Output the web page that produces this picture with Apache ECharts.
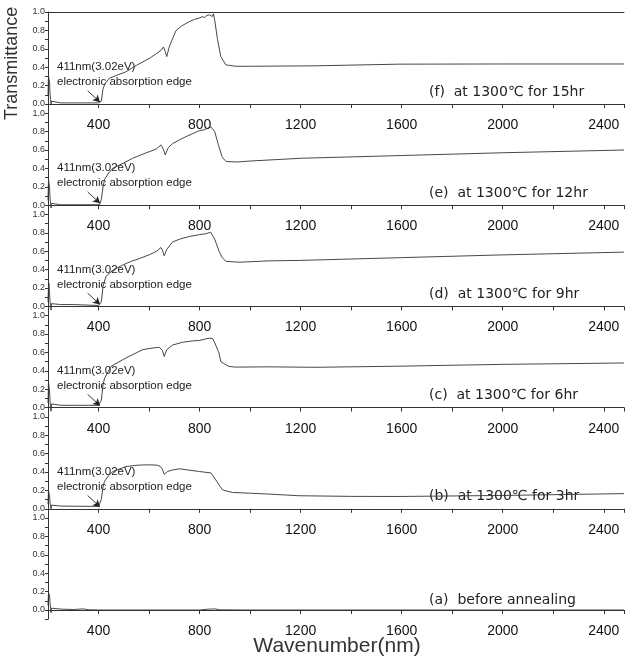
<!DOCTYPE html>
<html>
<head>
<meta charset="utf-8">
<script src="https://cdn.jsdelivr.net/npm/echarts@6/dist/echarts.min.js"></script>
<style>html,body{margin:0;padding:0;background:#fff}#c{width:627px;height:660px}</style>
</head>
<body>
<div id="c"></div>
<script>
// ---- data ----
const panelLabels = ['(f)  at 1300\u2103 for 15hr', '(e)  at 1300\u2103 for 12hr', '(d)  at 1300\u2103 for 9hr',
                     '(c)  at 1300\u2103 for 6hr', '(b)  at 1300\u2103 for 3hr', '(a)  before annealing'];
const xTickLabels = [400, 800, 1200, 1600, 2000, 2400];
const yTickLabels = [0.0, 0.2, 0.4, 0.6, 0.8, 1.0];

const wl_f = [200,202,204,206,208,210,212,214,218,250,300,350,400,406,411,417,425,443,470,509,550,604,630,650,657,663,670,680,690,707,730,759,780,800,811,820,828,835,840,845,850,855,860,871,884,904,943,1000,1259,1590,2000,2480];
const tr_f = [0.10,0.30,0.32,0.24,0.12,0.05,-0.01,0.03,0.015,0.012,0.012,0.012,0.012,0.01,0.03,0.155,0.22,0.28,0.31,0.35,0.42,0.50,0.55,0.59,0.62,0.58,0.515,0.62,0.69,0.80,0.85,0.895,0.92,0.935,0.95,0.94,0.96,0.95,0.97,0.98,0.95,0.98,0.91,0.70,0.515,0.425,0.41,0.41,0.415,0.433,0.435,0.435];

const wl_e = [200,202,204,206,208,210,212,214,218,250,300,350,397,405,411,418,424,440,456,500,535,580,628,647,655,664,675,693,720,746,799,820,835,845,852,860,875,890,905,950,1000,1200,1600,2000,2480];
const tr_e = [0.05,0.28,0.30,0.20,0.08,0.02,-0.03,0.02,0.005,0.005,0.005,0.005,0.005,0.01,0.06,0.20,0.28,0.35,0.40,0.46,0.51,0.56,0.61,0.655,0.62,0.547,0.62,0.67,0.71,0.745,0.81,0.82,0.84,0.85,0.83,0.80,0.65,0.52,0.475,0.47,0.48,0.51,0.54,0.57,0.60];

const wl_d = [200,202,204,206,208,210,212,214,218,250,300,350,400,406,411,418,430,460,496,530,562,600,630,647,653,660,670,693,720,759,800,825,844,850,860,877,890,904,956,1075,1200,1600,2000,2480];
const tr_d = [0.05,0.22,0.25,0.15,0.06,0.0,-0.04,0.03,0.02,0.02,0.02,0.015,0.01,0.01,0.05,0.22,0.33,0.40,0.45,0.49,0.52,0.56,0.60,0.64,0.61,0.55,0.62,0.70,0.73,0.76,0.78,0.79,0.806,0.79,0.73,0.60,0.53,0.49,0.48,0.495,0.50,0.53,0.56,0.59];

const wl_c = [200,202,204,206,208,210,212,214,218,250,300,350,400,406,411,418,424,450,509,575,620,641,653,660,670,693,733,772,800,838,845,852,864,877,884,904,917,943,1075,1259,1590,2000,2480];
const tr_c = [0.05,0.28,0.30,0.18,0.07,0.0,-0.04,0.04,0.03,0.025,0.025,0.025,0.024,0.03,0.08,0.25,0.32,0.45,0.54,0.63,0.65,0.655,0.62,0.555,0.63,0.68,0.71,0.725,0.73,0.755,0.765,0.75,0.68,0.59,0.50,0.465,0.447,0.44,0.443,0.438,0.45,0.47,0.485];

const wl_b = [200,202,204,206,208,210,212,214,218,250,300,350,400,406,411,418,424,440,456,509,560,601,630,645,653,660,673,690,720,759,800,845,852,864,877,890,904,930,996,1075,1193,1400,1590,2000,2480];
const tr_b = [0.05,0.20,0.22,0.14,0.07,0.03,0.0,0.04,0.03,0.03,0.028,0.027,0.026,0.03,0.10,0.24,0.30,0.36,0.405,0.46,0.475,0.478,0.475,0.46,0.43,0.375,0.405,0.42,0.435,0.42,0.405,0.39,0.385,0.315,0.26,0.207,0.195,0.178,0.17,0.16,0.142,0.135,0.134,0.145,0.165];

const wl_a = [200,202,204,206,208,210,212,214,220,250,300,340,360,400,800,840,860,880,1000,2480];
const tr_a = [0.05,0.19,0.20,0.16,0.08,0.02,-0.03,0.02,0.01,0.01,0.005,0.012,0.003,0.0,0.0,0.01,0.012,0.002,0.0,0.0];

const edgeArrow = [[357, 0.144], [406, 0.02]];
// ----------------------------------------

const wls = [wl_f, wl_e, wl_d, wl_c, wl_b, wl_a];
const trs = [tr_f, tr_e, tr_d, tr_c, tr_b, tr_a];

const TOP0 = 12, PH = 101.2, LEFT = 48;
const FONT = 'Arial, "Liberation Sans", sans-serif';
const grids = [], xAxes = [], yAxes = [], series = [], graphics = [];
for (let i = 0; i < 6; i++) {
  const top = TOP0 + i * PH;
  grids.push({left: LEFT, right: 0, top: top, height: PH});
  xAxes.push({
    gridIndex: i, type: 'value', min: 200, max: 2480, interval: 200, z: 1,
    axisLine: {show: true, lineStyle: {color: '#333', width: 1}},
    axisTick: {show: true, length: 4, lineStyle: {color: '#333'}},
    axisLabel: {fontSize: 14, margin: 5, color: '#111', fontFamily: FONT,
      formatter: v => xTickLabels.indexOf(Math.round(v)) >= 0 ? String(Math.round(v)) : ''},
    splitLine: {show: false}
  });
  yAxes.push({
    gridIndex: i, type: 'value', min: -0.1, max: 1.0, interval: 0.1, z: 1,
    axisLine: {show: true, lineStyle: {color: '#333', width: 1}},
    axisTick: {show: true, length: 3, lineStyle: {color: '#333'}},
    axisLabel: {fontSize: 9, margin: 3, color: '#333', fontFamily: FONT,
      formatter: v => {
        const r = Math.round(v * 10) / 10;
        return yTickLabels.some(t => Math.abs(t - r) < 1e-6) ? r.toFixed(1) : '';
      }},
    splitLine: {show: false}
  });
  const s = {
    type: 'line', xAxisIndex: i, yAxisIndex: i, z: 5,
    data: wls[i].map((x, k) => [x, trs[i][k]]),
    showSymbol: false, symbol: 'none', silent: true,
    lineStyle: {color: '#333', width: 0.9}
  };
  if (i < 5) {
    s.markLine = {
      silent: true, symbol: ['none', 'arrow'], symbolSize: [6, 7],
      label: {show: false},
      lineStyle: {color: '#222', width: 0.9, type: 'solid'},
      data: [[{coord: edgeArrow[0]}, {coord: edgeArrow[1]}]]
    };
    graphics.push({type: 'text', left: 57, top: top + 49,
      style: {text: '411nm(3.02eV)', fontSize: 11.5, fill: '#222', fontFamily: FONT}});
    graphics.push({type: 'text', left: 57, top: top + 64,
      style: {text: 'electronic absorption edge', fontSize: 11.5, fill: '#222', fontFamily: FONT}});
  }
  series.push(s);
  graphics.push({type: 'text', left: 429, top: top + (i === 5 ? 75 : 73),
    style: {text: panelLabels[i], fontSize: 14, fill: '#222', fontFamily: '"DejaVu Sans", sans-serif'}});
}
// top frame line for first panel
xAxes.push({gridIndex: 0, type: 'value', position: 'top', min: 200, max: 2480,
  axisLine: {show: true, lineStyle: {color: '#333'}}, axisTick: {show: false}, axisLabel: {show: false}, splitLine: {show: false}});

graphics.push({type: 'text', x: 337, y: 636,
  style: {text: 'Wavenumber(nm)', fontSize: 21, fill: '#333', fontFamily: FONT, align: 'center'}});
graphics.push({type: 'text', x: 3, y: 120, rotation: Math.PI / 2,
  style: {text: 'Transmittance', fontSize: 18, fill: '#333', fontFamily: FONT}});

const chart = echarts.init(document.getElementById('c'));
chart.setOption({
  animation: false,
  grid: grids, xAxis: xAxes, yAxis: yAxes, series: series, graphic: graphics
});
</script>
</body>
</html>
